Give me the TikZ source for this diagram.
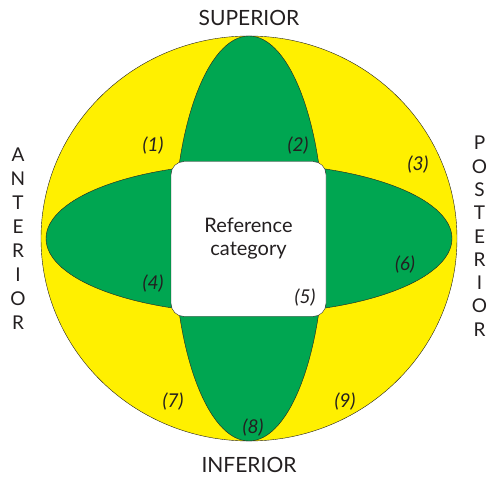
\documentclass[tikz,border=0pt]{standalone}
\usepackage{fontspec}
\setmainfont{Lato}
\usepackage{xcolor}
\usepackage{tikz}
\definecolor{sunyellow}{HTML}{FFF000}
\definecolor{leafgreen}{HTML}{00A651}
\definecolor{inkgray}{HTML}{231F20}
\tikzset{
  dir/.style={font=\fontsize{21}{21}\selectfont, text=inkgray, inner sep=0pt},
  side/.style={font=\fontsize{19}{19}\selectfont, text=inkgray, inner sep=0pt},
  num/.style={font=\fontsize{19}{19}\selectfont\itshape, text=inkgray, inner sep=0pt},
  refbox/.style={draw=inkgray, fill=white, rounded corners=13pt, minimum width=155pt,
    minimum height=155pt, align=center, text=inkgray, font=\fontsize{20}{23}\selectfont}
}
\begin{document}
\begin{tikzpicture}[x=1pt,y=-1pt]
\useasboundingbox (0,0) rectangle (488,478);
\draw[inkgray, fill=sunyellow] (249,238.5) ellipse (208 and 202.5);
\draw[inkgray, fill=leafgreen] (249,238.5) ellipse (75 and 202.5);
\draw[inkgray, fill=leafgreen] (249,238.5) ellipse (203 and 75);
\node[refbox] (ref) at (248.5,239) {Reference\\category};
\node[dir] (sup) at (249,18) {SUPERIOR};
\node[dir] (inf) at (249,465) {INFERIOR};
\foreach \l [count=\k] in {A,N,T,E,R,I,O,R}
  \node[side] (ant\k) at (18,{131+24*\k}) {\l};
\foreach \l [count=\k] in {P,O,S,T,E,R,I,O,R}
  \node[side] (post\k) at (479.5,{119.7+23.3*\k}) {\l};
\foreach \i/\x/\y in {1/153/146, 2/298/146, 3/418/165, 4/153/284, 5/305/298, 6/405/265, 7/173/402, 8/253/428, 9/345/402}
  \node[num] (n\i) at (\x,\y) {(\i)};
\end{tikzpicture}
\end{document}
